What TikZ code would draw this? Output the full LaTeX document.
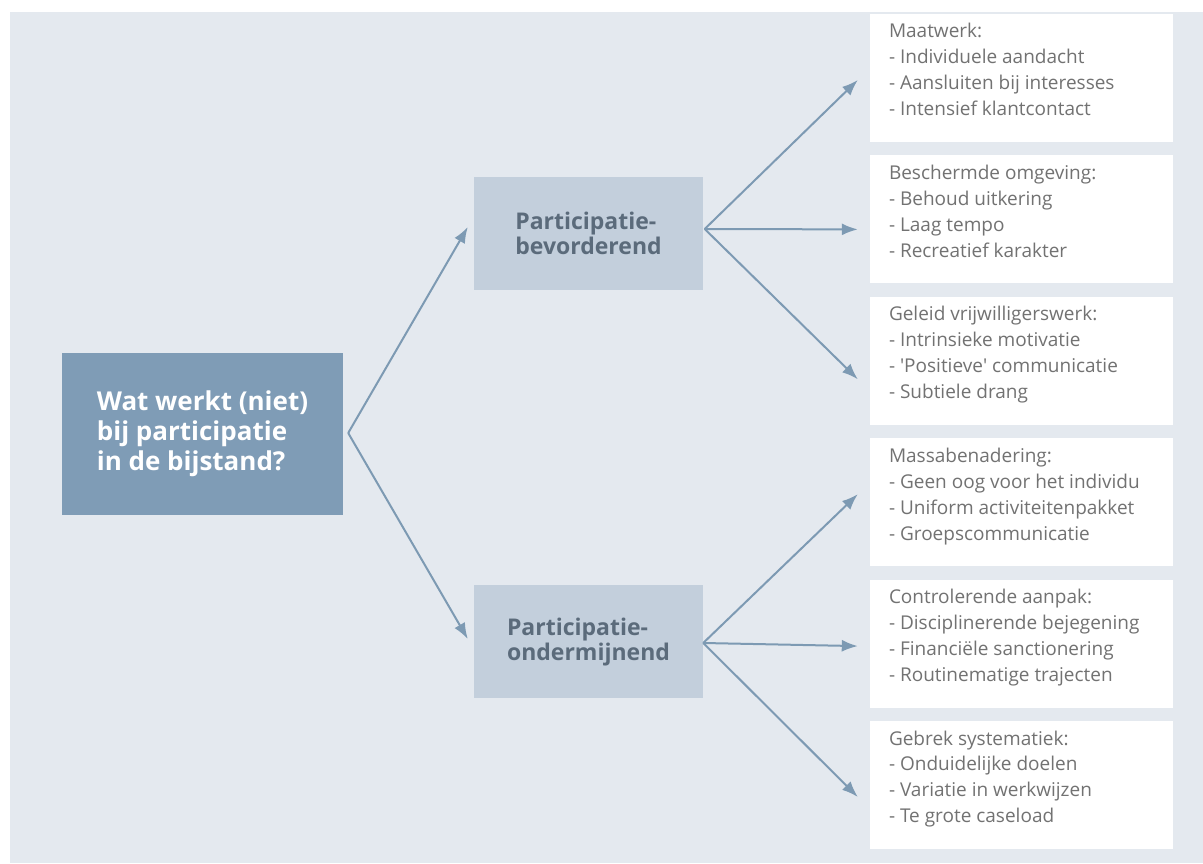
\documentclass[tikz,border=0pt]{standalone}
\usepackage{fontspec}
\setmainfont{Open Sans}
\usepackage{tikz}
\usetikzlibrary{arrows.meta,calc,positioning}
\definecolor{bgblue}{HTML}{E4E9EF}
\definecolor{darkblue}{HTML}{7F9CB6}
\definecolor{lightblue}{HTML}{C3CFDC}
\definecolor{arrowblue}{HTML}{7D9AB3}
\definecolor{itemgrey}{HTML}{727272}
\definecolor{midtext}{HTML}{5B6B7B}
\newcommand{\itemlist}[1]{\parbox[c][128pt][t]{265pt}{\fontsize{19pt}{26pt}\selectfont\rule{0pt}{24pt}#1}}
\tikzset{
        mainbox/.style = {fill=darkblue, text=white, align=left,
            font=\fontsize{26pt}{30pt}\selectfont\bfseries,
            minimum width=281pt, minimum height=162pt},
        midbox/.style = {fill=lightblue, text=midtext, align=left,
            font=\fontsize{23pt}{25pt}\selectfont\bfseries,
            minimum width=229pt, minimum height=113pt},
        itembox/.style = {fill=white, text=itemgrey, inner xsep=19pt,
            inner ysep=0pt, minimum width=303pt, node distance=13pt},
        arrow/.style = {draw=arrowblue, line width=2pt,
            -{Latex[length=16pt,width=12pt]}},
    }

\begin{document}
\begin{tikzpicture}[x=1pt,y=1pt]
    \useasboundingbox (0,0) rectangle (1203,863);
    \fill[bgblue] (10,0) rectangle (1203,851);

    \node[mainbox] (main) at (202.5,429) {Wat werkt (niet)\\bij participatie\\in de bijstand?};
    \node[midbox] (bev) at (588.5,629.5) {Participatie-\\bevorderend};
    \node[midbox] (ond) at (588.5,221) {Participatie-\\ondermijnend};

    \node[itembox] (m1) at (1021.5,785) {\itemlist{Maatwerk:\\- Individuele aandacht\\- Aansluiten bij interesses\\- Intensief klantcontact}};
    \node[itembox, below=of m1] (m2) {\itemlist{Beschermde omgeving:\\- Behoud uitkering\\- Laag tempo\\- Recreatief karakter}};
    \node[itembox, below=of m2] (m3) {\itemlist{Geleid vrijwilligerswerk:\\- Intrinsieke motivatie\\- \textquotesingle Positieve\textquotesingle\ communicatie\\- Subtiele drang}};
    \node[itembox, below=of m3] (m4) {\itemlist{Massabenadering:\\- Geen oog voor het individu\\- Uniform activiteitenpakket\\- Groepscommunicatie}};
    \node[itembox, below=of m4] (m5) {\itemlist{Controlerende aanpak:\\- Disciplinerende bejegening\\- Financiële sanctionering\\- Routinematige trajecten}};
    \node[itembox, below=of m5] (m6) {\itemlist{Gebrek systematiek:\\- Onduidelijke doelen\\- Variatie in werkwijzen\\- Te grote caseload}};

    \coordinate (split) at ([xshift=5pt,yshift=1pt]main.east);
    \coordinate (bevR) at ([xshift=1.5pt,yshift=4.5pt]bev.east);
    \coordinate (ondR) at ([xshift=0pt,yshift=-1pt]ond.east);

    \draw[arrow] (split) -- ([xshift=-6pt,yshift=6.5pt]bev.west);
    \draw[arrow] (split) -- ([xshift=-6pt,yshift=3pt]ond.west);

    \draw[arrow] (bevR) -- ([xshift=-12pt,yshift=-2pt]m1.west);
    \draw[arrow] (bevR) -- ([xshift=-12pt,yshift=-10pt]m2.west);
    \draw[arrow] (bevR) -- ([xshift=-12pt,yshift=-18.5pt]m3.west);

    \draw[arrow] (ondR) -- ([xshift=-12pt,yshift=8pt]m4.west);
    \draw[arrow] (ondR) -- ([xshift=-12pt,yshift=-2.5pt]m5.west);
    \draw[arrow] (ondR) -- ([xshift=-12pt,yshift=-12pt]m6.west);
\end{tikzpicture}
\end{document}
